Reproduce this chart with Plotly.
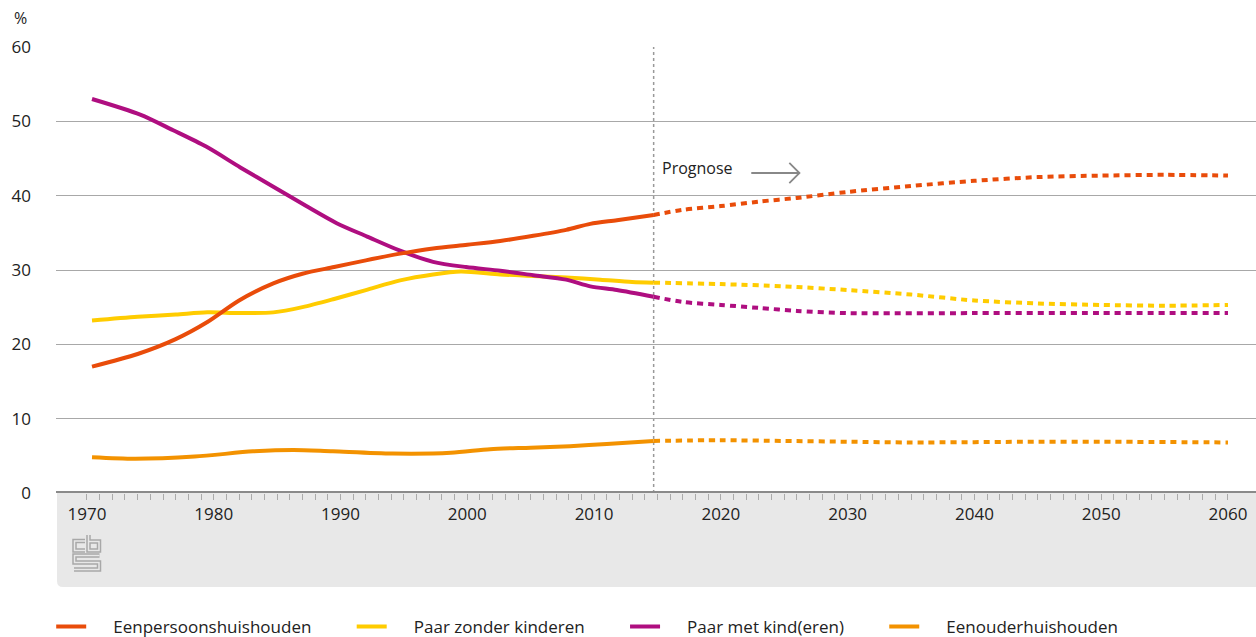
import plotly.graph_objects as go

# ---------------- data ----------------
hist_x_een = [1970.4, 1974, 1977, 1979.5, 1982, 1984.7, 1987, 1989.5, 1992, 1994.7, 1997.3, 2000, 2002.6, 2005.2, 2007.8, 2009.7, 2011.8, 2014.7]
hist_een = [17.0, 18.7, 20.7, 23.0, 25.9, 28.2, 29.5, 30.4, 31.3, 32.2, 32.9, 33.4, 33.9, 34.6, 35.4, 36.2, 36.7, 37.4]
prog_x_een = [2014.7, 2017, 2020, 2023, 2026, 2030, 2035, 2040, 2045, 2050, 2055, 2060]
prog_een = [37.4, 38.1, 38.6, 39.2, 39.7, 40.5, 41.3, 42.0, 42.5, 42.7, 42.8, 42.7]

hist_x_pzk = [1970.4, 1974, 1977, 1979.5, 1982, 1984.7, 1987, 1989.5, 1992, 1994.7, 1997.3, 1999.5, 2002.6, 2005.2, 2007.8, 2010.5, 2013, 2014.7]
hist_pzk = [23.2, 23.7, 24.0, 24.3, 24.2, 24.3, 25.0, 26.1, 27.3, 28.6, 29.4, 29.8, 29.4, 29.2, 29.0, 28.7, 28.4, 28.3]
prog_x_pzk = [2014.7, 2020, 2025, 2030, 2035, 2040, 2045, 2050, 2055, 2060]
prog_pzk = [28.3, 28.1, 27.8, 27.3, 26.7, 25.9, 25.5, 25.3, 25.2, 25.3]

hist_x_pmk = [1970.4, 1974.2, 1976.8, 1979.4, 1982.1, 1984.7, 1987.3, 1989.7, 1992.1, 1994.7, 1997.3, 1999.9, 2002.6, 2005.2, 2007.8, 2009.7, 2011.8, 2014.7]
hist_pmk = [53.0, 50.9, 48.8, 46.6, 43.8, 41.2, 38.6, 36.3, 34.5, 32.6, 31.1, 30.4, 29.9, 29.3, 28.7, 27.8, 27.3, 26.4]
prog_x_pmk = [2014.7, 2017, 2020, 2023, 2026, 2030, 2040, 2050, 2060]
prog_pmk = [26.4, 25.7, 25.3, 24.9, 24.5, 24.2, 24.2, 24.2, 24.2]

hist_x_eo = [1970.4, 1973.8, 1978.5, 1983.1, 1986.3, 1989.4, 1994.1, 1998.7, 2001.8, 2005, 2008.1, 2011, 2014.7]
hist_eo = [4.8, 4.6, 4.9, 5.6, 5.8, 5.6, 5.3, 5.4, 5.9, 6.1, 6.3, 6.6, 7.0]
prog_x_eo = [2014.7, 2020, 2025, 2030, 2035, 2045, 2050, 2060]
prog_eo = [7.0, 7.1, 7.0, 6.9, 6.8, 6.9, 6.9, 6.8]

series_names = ["Eenpersoonshuishouden", "Paar zonder kinderen", "Paar met kind(eren)", "Eenouderhuishouden"]
colors = ["#e94c0a", "#ffcc00", "#af0e80", "#f39200"]
x_ticks = [1970, 1980, 1990, 2000, 2010, 2020, 2030, 2040, 2050, 2060]
y_ticks = [0, 10, 20, 30, 40, 50, 60]
prognose_start = 2014.7

# ---------------- figure ----------------
W, H = 1256, 637
L, R, T, B = 56, 0, 47, 144
PW, PH = W - L - R, H - T - B


def px(X):
    return (X - L) / PW


def py(Y):
    return (H - B - Y) / PH


fig = go.Figure()
hist = [(hist_x_een, hist_een), (hist_x_pzk, hist_pzk), (hist_x_pmk, hist_pmk), (hist_x_eo, hist_eo)]
prog = [(prog_x_een, prog_een), (prog_x_pzk, prog_pzk), (prog_x_pmk, prog_pmk), (prog_x_eo, prog_eo)]
order = [3, 1, 2, 0]
for i in order:
    fig.add_trace(go.Scatter(x=prog[i][0], y=prog[i][1], mode="lines", showlegend=False,
                             line=dict(color=colors[i], width=4, dash="6px,5px", shape="spline", smoothing=0.8),
                             hoverinfo="skip"))
for i in order:
    fig.add_trace(go.Scatter(x=hist[i][0], y=hist[i][1], mode="lines", showlegend=False,
                             line=dict(color=colors[i], width=4, shape="spline", smoothing=0.8)))
# legend entries in original order
NB = "\u00a0"
for i in range(4):
    fig.add_trace(go.Scatter(x=[None], y=[None], mode="lines", name=NB * 5 + series_names[i] + NB * 8,
                             line=dict(color=colors[i], width=4)))

shapes = []
# grey band under the x axis
x0, x1 = px(57), px(1256)
y0, y1 = py(493), py(587)
r = 6
shapes.append(dict(type="path", xref="paper", yref="paper", layer="below",
                   path=f"M {x0},{y0} L {x1},{y0} L {x1},{y1} L {px(57 + r)},{y1} Q {x0},{y1} {x0},{py(587 - r)} Z",
                   fillcolor="#e8e8e8", line=dict(width=0)))
# prognosis divider
shapes.append(dict(type="line", xref="x", yref="y", x0=prognose_start, x1=prognose_start, y0=0, y1=60,
                   line=dict(color="#999999", width=1.5, dash="dot"), layer="below"))
# arrow next to "Prognose"
ax0, ax1 = 2022.4, 2026.2
shapes.append(dict(type="line", xref="x", yref="y", x0=ax0, x1=ax1, y0=43.05, y1=43.05,
                   line=dict(color="#888888", width=1.8)))
shapes.append(dict(type="path", xref="x", yref="y",
                   path=f"M 2025.4,44.4 L {ax1},43.05 L 2025.4,41.7",
                   line=dict(color="#888888", width=1.8)))

# CBS logo (decoration)
logo_paths = [
    [(85, 541), (74.5, 541), (74.5, 550.5), (85, 550.5)],
    [(88.5, 535), (88.5, 550.5), (99, 550.5), (99, 541.5), (88.5, 541.5)],
    [(99.5, 555.5), (74.5, 555.5), (74.5, 562.5), (99, 562.5), (99, 569.5), (74, 569.5)],
]
for pts in logo_paths:
    d = "M " + " L ".join(f"{px(a)},{py(b)}" for a, b in pts)
    shapes.append(dict(type="path", xref="paper", yref="paper", path=d, line=dict(color="#a8a8a8", width=4.5)))
    shapes.append(dict(type="path", xref="paper", yref="paper", path=d, line=dict(color="#e8e8e8", width=1.5)))

fig.update_layout(
    width=W, height=H,
    margin=dict(l=L, r=R, t=T, b=B, autoexpand=False),
    paper_bgcolor="white", plot_bgcolor="white",
    font=dict(family="Open Sans", size=17, color="#222222"),
    shapes=shapes,
    showlegend=True,
    legend=dict(orientation="h", x=-0.004, xanchor="left", y=py(627), yanchor="middle",
                font=dict(size=17, color="#222222"), itemwidth=30, tracegroupgap=0),
    annotations=[
        dict(text="%", xref="paper", yref="paper", x=px(12), y=py(18), xanchor="left", yanchor="middle",
             showarrow=False, font=dict(size=16, color="#222222")),
        dict(text="Prognose", xref="x", yref="y", x=prognose_start + 0.5, y=43.7, xanchor="left", yanchor="middle",
             showarrow=False, font=dict(size=16, color="#222222")),
    ],
)
fig.update_xaxes(range=[1967.56, 2062.21], tickvals=x_ticks, ticktext=[str(v) for v in x_ticks],
                 showgrid=False, zeroline=False, showline=False,
                 ticks="outside", ticklen=6, tickwidth=1, tickcolor="#aaaaaa",
                 minor=dict(tickvals=list(range(1970, 2061)), ticks="outside", ticklen=6, tickwidth=1, tickcolor="#aaaaaa"),
                 tickfont=dict(size=17, color="#222222"))
fig.update_yaxes(range=[0, 60], tickvals=y_ticks, showgrid=True, gridcolor="#a8a8a8", gridwidth=1,
                 zeroline=False, showline=False, ticks="", ticklabelstandoff=24,
                 tickfont=dict(size=17, color="#222222"))
# thick baseline axis
fig.add_shape(type="line", xref="paper", yref="y", x0=0, x1=1, y0=0, y1=0, line=dict(color="#8a8a8a", width=4))

fig.write_html("out.html", config={"displayModeBar": False},
               post_script="document.body.style.margin='0';document.body.style.overflow='hidden';")
